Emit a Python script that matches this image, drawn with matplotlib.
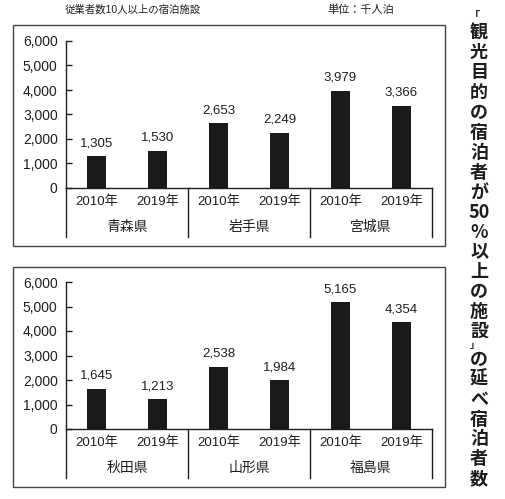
import numpy as np
import matplotlib
matplotlib.use('Agg')
import matplotlib.pyplot as plt
from matplotlib.patches import Rectangle
import matplotlib.transforms as mtrans

plt.rcParams['font.family'] = ['Liberation Sans', 'Noto Sans CJK JP', 'DejaVu Sans']

# data
years = ['2010年', '2019年']
prefs_top = ['青森県', '岩手県', '宮城県']
prefs_bottom = ['秋田県', '山形県', '福島県']
vals_top = [1305, 1530, 2653, 2249, 3979, 3366]
vals_bottom = [1645, 1213, 2538, 1984, 5165, 4354]
yticks = [0, 1000, 2000, 3000, 4000, 5000, 6000]

header_left = '従業者数10人以上の宿泊施設'
header_right = '単位：千人泊'
side_title = ['「', '観', '光', '目', '的', 'の', '宿', '泊', '者', 'が', '50', '%',
              '以', '上', 'の', '施', '設', '」', 'の', '延', 'べ', '宿', '泊', '者', '数']

W, H = 506, 499
fig = plt.figure(figsize=(W / 100, H / 100), dpi=100)
fig.patch.set_facecolor('white')

TXT = '#1e1e1e'
BAR = '#1a1a1a'


def fx(px):
    return px / W


def fy(py):
    return 1 - py / H


def panel(vals, prefs, box_top, box_bot, zero_y):
    # outer frame
    fig.add_artist(Rectangle((fx(13), fy(box_bot)), fx(445) - fx(13), fy(box_top) - fy(box_bot),
                             transform=fig.transFigure, fill=False, ec='#444444', lw=1.0))
    ax = fig.add_axes([fx(66), fy(zero_y), fx(432) - fx(66), (147) / H])
    x = np.arange(len(vals))
    ax.bar(x, vals, width=0.31, color=BAR)
    ax.set_xlim(-0.5, len(vals) - 0.5)
    ax.set_ylim(0, 6000)
    ax.set_yticks(yticks)
    ax.set_yticklabels([f'{v:,}' for v in yticks], fontsize=10, color=TXT)
    ax.tick_params(axis='y', direction='in', length=4, width=1, pad=6, color=TXT)
    ax.set_xticks([])
    for s in ['top', 'right']:
        ax.spines[s].set_visible(False)
    for s in ['left', 'bottom']:
        ax.spines[s].set_color(TXT)
        ax.spines[s].set_linewidth(1)
    for xi, v in zip(x, vals):
        ax.annotate(f'{v:,}', (xi, v), xytext=(0, 5), textcoords='offset points',
                    ha='center', va='bottom', fontsize=9.5, color=TXT)
    tr = mtrans.blended_transform_factory(ax.transData, ax.transAxes)
    for xi in x:
        ax.text(xi, -0.095, years[xi % 2], transform=tr, ha='center', va='center',
                fontsize=9.5, color=TXT)
    for gi, p in enumerate(prefs):
        ax.text(2 * gi + 0.5, -0.265, p, transform=tr, ha='center', va='center',
                fontsize=10, color=TXT)
    for xd in np.arange(-0.5, len(vals), 2):
        ax.plot([xd, xd], [0, -0.333], transform=tr, color=TXT, lw=1, clip_on=False)
    return ax


panel(vals_top, prefs_top, 25, 246, 188)
panel(vals_bottom, prefs_bottom, 267, 487, 429)

fig.text(fx(133), fy(10), header_left, ha='center', va='center', fontsize=7.5, color=TXT)
fig.text(fx(361), fy(10), header_right, ha='center', va='center', fontsize=8, color=TXT)

# vertical side title, one character per row
y = 33
for ch in side_title:
    if ch == '「':
        fig.text(fx(474), fy(15), ch, ha='center', va='center', fontsize=8,
                 fontweight='bold', color=TXT, family='Noto Sans CJK JP')
        continue
    if ch == '」':
        fig.text(fx(470), fy(y - 3), ch, ha='left', va='baseline', fontsize=7,
                 fontweight='bold', color=TXT, family='Noto Sans CJK JP')
        y += 8
        continue
    fig.text(fx(479), fy(y), ch, ha='center', va='center', fontsize=13,
             fontweight='bold', color=TXT, family=['Noto Sans CJK JP', 'DejaVu Sans'])
    y += 19.9

fig.savefig('out.png', dpi=100, facecolor='white')
